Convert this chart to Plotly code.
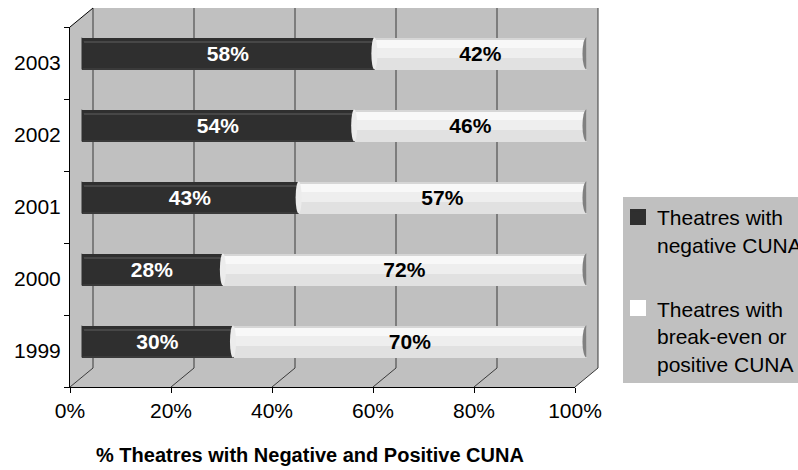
import plotly.graph_objects as go

# ---- data -------------------------------------------------------------
years = ["1999", "2000", "2001", "2002", "2003"]
negative = [30, 28, 43, 54, 58]          # % theatres with negative CUNA
positive = [70, 72, 57, 46, 42]          # % theatres with break-even / positive CUNA
tick_values = [0, 20, 40, 60, 80, 100]
tick_labels = ["0%", "20%", "40%", "60%", "80%", "100%"]

neg_name = "Theatres with<br>negative CUNA"
pos_name = "Theatres with<br>break-even or<br>positive CUNA"
axis_title = "% Theatres with Negative and Positive CUNA"

NEG_COLOR = "#2F2F2F"
POS_COLOR = "#FFFFFF"

# ---- geometry of the pseudo-3D frame (pixels) --------------------------
W, H = 798, 470
FX0, FX1 = 70, 575          # front plane, 0% .. 100%
FY_TOP, FY_BOT = 27, 387    # front plane, top .. floor edge
DX, DY = 23, -19            # depth offset towards the back wall
BAR_HALF = 0.222            # half bar thickness in category units

WALL = "#C0C0C0"
GRID = "#3A3A3A"
FONT = "Arial, Liberation Sans, sans-serif"


def px(x):
    return x / W


def py(y):
    return 1 - y / H


def fx(v):
    return FX0 + (FX1 - FX0) * v / 100.0


# bar plane lies midway between the front plane and the back wall
BX0, BX1 = FX0 + DX / 2, FX1 + DX / 2
BY_TOP, BY_BOT = FY_TOP + DY / 2, FY_BOT + DY / 2

fig = go.Figure()

# invisible trace so the front axes get drawn
fig.add_trace(go.Scatter(x=[0] * len(years), y=years, mode="markers",
                         marker=dict(opacity=0), xaxis="x", yaxis="y2",
                         hoverinfo="skip", showlegend=False))


def bar_layer(base, length, color, offset, width, name=None, legend=False,
              group=None, text=None, textcolor=None):
    fig.add_trace(go.Bar(
        y=years, x=length, base=base, orientation="h",
        xaxis="x2", yaxis="y",
        marker=dict(color=color, line=dict(width=0)),
        offset=offset, width=width,
        name=name, showlegend=legend, legendgroup=group,
        text=text, texttemplate="%{text}" if text else None,
        textposition="inside" if text else "none",
        insidetextanchor="middle",
        textfont=dict(family=FONT, size=21, color=textcolor, weight="bold"),
        constraintext="none",
        hoverinfo="skip",
    ))


zero = [0] * len(years)

# dark cylinders: negative CUNA
bar_layer(zero, negative, NEG_COLOR, -BAR_HALF, 2 * BAR_HALF,
          name=neg_name, legend=True, group="neg")
bar_layer(zero, negative, "#474747", 0.15, 0.03, group="neg")
bar_layer(zero, negative, "#3A3A3A", -BAR_HALF, 0.025, group="neg")

# light cylinders: break-even or positive CUNA
bar_layer(negative, positive, POS_COLOR, -BAR_HALF, 2 * BAR_HALF,
          name=pos_name, legend=True, group="pos")
bar_layer(negative, positive, "#E1E1E1", -BAR_HALF, 0.17, group="pos")
bar_layer(negative, positive, "#EEEEEE", -0.055, 0.14, group="pos")
bar_layer(negative, positive, "#F8F8F8", 0.085, 0.12, group="pos")
bar_layer(negative, positive, "#D6D6D6", BAR_HALF - 0.015, 0.015, group="pos")

# value labels
bar_layer(zero, negative, "rgba(0,0,0,0)", -BAR_HALF, 2 * BAR_HALF,
          text=[f"{v}%" for v in negative], textcolor="white", group="neg")
bar_layer(negative, positive, "rgba(0,0,0,0)", -BAR_HALF, 2 * BAR_HALF,
          text=[f"{v}%" for v in positive], textcolor="black", group="pos")

# ---- frame: walls, floor and gridlines -----------------------------------
shapes = []


def path(points):
    s = "M" + " L".join(f"{px(x)},{py(y)}" for x, y in points) + " Z"
    return s


bx0, bx1 = FX0 + DX, FX1 + DX
by0, by1 = FY_TOP + DY, FY_BOT + DY
shapes.append(dict(type="rect", xref="paper", yref="paper", layer="below",
                   x0=px(bx0), x1=px(bx1), y0=py(by1), y1=py(by0),
                   fillcolor=WALL, line=dict(width=0)))
shapes.append(dict(type="path", xref="paper", yref="paper", layer="below",
                   path=path([(FX0, FY_TOP), (bx0, by0), (bx0, by1), (FX0, FY_BOT)]),
                   fillcolor=WALL, line=dict(width=0)))
shapes.append(dict(type="path", xref="paper", yref="paper", layer="below",
                   path=path([(FX0, FY_BOT), (bx0, by1), (bx1, by1), (FX1, FY_BOT)]),
                   fillcolor=WALL, line=dict(width=0)))
for v in tick_values:
    x = fx(v)
    shapes.append(dict(type="line", xref="paper", yref="paper", layer="below",
                       x0=px(x + DX), x1=px(x + DX), y0=py(by0), y1=py(by1),
                       line=dict(color=GRID, width=1)))
    shapes.append(dict(type="line", xref="paper", yref="paper", layer="below",
                       x0=px(x), x1=px(x + DX), y0=py(FY_BOT), y1=py(by1),
                       line=dict(color=GRID, width=1)))
shapes.append(dict(type="line", xref="paper", yref="paper", layer="below",
                   x0=px(FX0), x1=px(bx0), y0=py(FY_TOP), y1=py(by0),
                   line=dict(color="black", width=1)))

# legend panel and its larger colour keys
shapes.append(dict(type="rect", xref="paper", yref="paper", layer="below",
                   x0=px(623), x1=px(W + 5), y0=py(383), y1=py(197),
                   fillcolor=WALL, line=dict(width=0)))
for color, top in ((NEG_COLOR, 209), (POS_COLOR, 300)):
    shapes.append(dict(type="rect", xref="paper", yref="paper", layer="above",
                       x0=px(630), x1=px(646), y0=py(top + 16), y1=py(top),
                       fillcolor=color, line=dict(width=0)))

# rounded cylinder ends
for i, (n, p) in enumerate(zip(negative, positive)):
    shapes.append(dict(type="circle", xref="x2", yref="y", layer="above",
                       x0=-0.7, x1=0.7, y0=i - BAR_HALF, y1=i + BAR_HALF,
                       fillcolor=NEG_COLOR, line=dict(width=0)))
    shapes.append(dict(type="circle", xref="x2", yref="y", layer="above",
                       x0=n - 0.6, x1=n + 0.6, y0=i - BAR_HALF, y1=i + BAR_HALF,
                       fillcolor="#ECECEC", line=dict(width=0)))
    shapes.append(dict(type="circle", xref="x2", yref="y", layer="above",
                       x0=n + p - 0.8, x1=n + p + 0.8, y0=i - BAR_HALF, y1=i + BAR_HALF,
                       fillcolor="#808080", line=dict(width=0)))

fig.update_layout(
    width=W, height=H,
    margin=dict(l=0, r=0, t=0, b=0, autoexpand=False),
    paper_bgcolor="white", plot_bgcolor="rgba(0,0,0,0)",
    barmode="overlay", bargap=0,
    font=dict(family=FONT, size=21, color="black"),
    shapes=shapes,
    hovermode=False,
    xaxis=dict(domain=[px(FX0), px(FX1)], range=[0, 100], anchor="y2",
               tickmode="array", tickvals=tick_values, ticktext=tick_labels,
               ticks="outside", ticklen=5,
               tickcolor="black", showline=True, linecolor="black", linewidth=1,
               showgrid=False, zeroline=False, fixedrange=True,
               tickfont=dict(family=FONT, size=21, color="black")),
    yaxis2=dict(domain=[py(FY_BOT), py(FY_TOP)], anchor="x", type="category",
                categoryorder="array", categoryarray=years, range=[-0.5, 4.5],
                tickson="boundaries", ticks="outside", ticklen=5, tickcolor="black",
                showline=True, linecolor="black", linewidth=1,
                showgrid=False, zeroline=False, fixedrange=True,
                ticklabelstandoff=4,
                tickfont=dict(family=FONT, size=21, color="black")),
    xaxis2=dict(domain=[px(BX0), px(BX1)], range=[0, 100], anchor="y",
                visible=False, fixedrange=True),
    yaxis=dict(domain=[py(BY_BOT), py(BY_TOP)], anchor="x2", type="category",
               categoryorder="array", categoryarray=years, range=[-0.5, 4.5],
               visible=False, fixedrange=True),
    legend=dict(x=px(617), y=py(197), xanchor="left", yanchor="top",
                bgcolor="rgba(0,0,0,0)", borderwidth=0, valign="top", itemwidth=30,
                tracegroupgap=34, traceorder="grouped",
                font=dict(family=FONT, size=21, color="black")),
    annotations=[dict(text=f"<b>{axis_title}</b>", xref="paper", yref="paper",
                      x=px(310), y=py(455), xanchor="center", yanchor="middle",
                      showarrow=False,
                      font=dict(family=FONT, size=20, color="black"))],
)

fig.write_html("out.html")
